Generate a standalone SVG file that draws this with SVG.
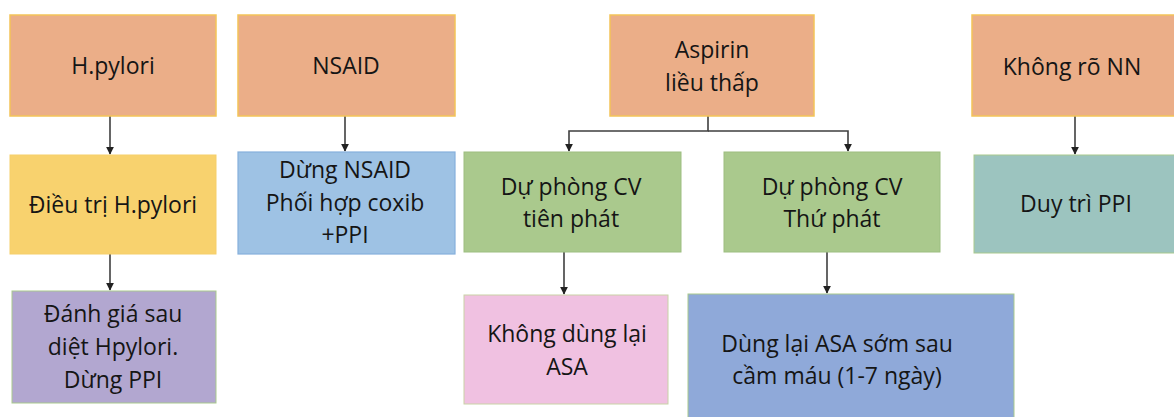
<svg xmlns="http://www.w3.org/2000/svg" width="1174" height="417" viewBox="0 0 1174 417">
  <style>
    text { font-family: "Open Sans", "Liberation Sans", sans-serif; font-size: 23px; fill: #151515; text-anchor: middle; }
    .cause { fill: #EBAE88; stroke: #F3C458; stroke-width: 1.5; }
    .yellow { fill: #F8D26E; stroke: #F6CF6A; stroke-width: 1; }
    .lblue { fill: #9EC2E4; stroke: #86B0DC; stroke-width: 1.2; }
    .purple { fill: #B2A7D0; stroke: #A9C98D; stroke-width: 1; }
    .green { fill: #AAC98D; stroke: #9DBE80; stroke-width: 1; }
    .pink { fill: #F0C1E1; stroke: #C9D2A6; stroke-width: 1; }
    .dblue { fill: #8FA9D9; stroke: #A9C98D; stroke-width: 1; }
    .teal { fill: #9CC4BF; stroke: #A9C98D; stroke-width: 1; }
    .conn { fill: none; stroke: #3f3f3f; stroke-width: 1.6; }
  </style>
  <defs>
    <marker id="arrow" viewBox="0 0 10 10" refX="9" refY="5" markerWidth="8" markerHeight="8" markerUnits="userSpaceOnUse" orient="auto">
      <path d="M0,0 L10,5 L0,10 z" fill="#222"/>
    </marker>
  </defs>
  <rect width="1174" height="417" fill="#ffffff"/>

  <!-- connectors -->
  <g id="connectors">
    <path class="conn" d="M110,116 V154" marker-end="url(#arrow)"/>
    <path class="conn" d="M110,254 V290" marker-end="url(#arrow)"/>
    <path class="conn" d="M345,116 V151" marker-end="url(#arrow)"/>
    <path class="conn" d="M708,116 V131 H569 V151" marker-end="url(#arrow)"/>
    <path class="conn" d="M708,131 H848 V151" marker-end="url(#arrow)"/>
    <path class="conn" d="M564,252 V294" marker-end="url(#arrow)"/>
    <path class="conn" d="M827,252 V293" marker-end="url(#arrow)"/>
    <path class="conn" d="M1075,116 V154" marker-end="url(#arrow)"/>
  </g>

  <!-- causes (top row) -->
  <g id="hpylori">
    <rect class="cause" x="10" y="15" width="206" height="101"/>
    <text x="113" y="74">H.pylori</text>
  </g>
  <g id="nsaid">
    <rect class="cause" x="238" y="15" width="217" height="101"/>
    <text x="346" y="74">NSAID</text>
  </g>
  <g id="aspirin">
    <rect class="cause" x="610" y="15" width="204" height="101"/>
    <text x="712" y="58">Aspirin</text>
    <text x="712" y="91">liều thấp</text>
  </g>
  <g id="unknown">
    <rect class="cause" x="972" y="15" width="204" height="101"/>
    <text x="1072" y="75">Không rõ NN</text>
  </g>

  <!-- second row -->
  <g id="treat-hp">
    <rect class="yellow" x="10" y="155" width="206" height="99"/>
    <text x="113" y="213">Điều trị H.pylori</text>
  </g>
  <g id="stop-nsaid">
    <rect class="lblue" x="238" y="152" width="217" height="102"/>
    <text x="345" y="178">Dừng NSAID</text>
    <text x="345" y="211">Phối hợp coxib</text>
    <text x="345" y="243">+PPI</text>
  </g>
  <g id="primary">
    <rect class="green" x="464" y="152" width="217" height="100"/>
    <text x="571" y="195">Dự phòng CV</text>
    <text x="571" y="227">tiên phát</text>
  </g>
  <g id="secondary">
    <rect class="green" x="724" y="152" width="216" height="100"/>
    <text x="832" y="195">Dự phòng CV</text>
    <text x="832" y="227">Thứ phát</text>
  </g>
  <g id="keep-ppi">
    <rect class="teal" x="974" y="155" width="202" height="98"/>
    <text x="1076" y="212">Duy trì PPI</text>
  </g>

  <!-- third row -->
  <g id="assess">
    <rect class="purple" x="12" y="291" width="204" height="112"/>
    <text x="113" y="322">Đánh giá sau</text>
    <text x="113" y="355">diệt Hpylori.</text>
    <text x="113" y="388">Dừng PPI</text>
  </g>
  <g id="no-asa">
    <rect class="pink" x="464" y="295" width="204" height="109"/>
    <text x="567" y="342">Không dùng lại</text>
    <text x="567" y="375">ASA</text>
  </g>
  <g id="resume-asa">
    <rect class="dblue" x="688" y="294" width="326" height="130"/>
    <text x="837" y="352">Dùng lại ASA sớm sau</text>
    <text x="837" y="384">cầm máu (1-7 ngày)</text>
  </g>
</svg>
